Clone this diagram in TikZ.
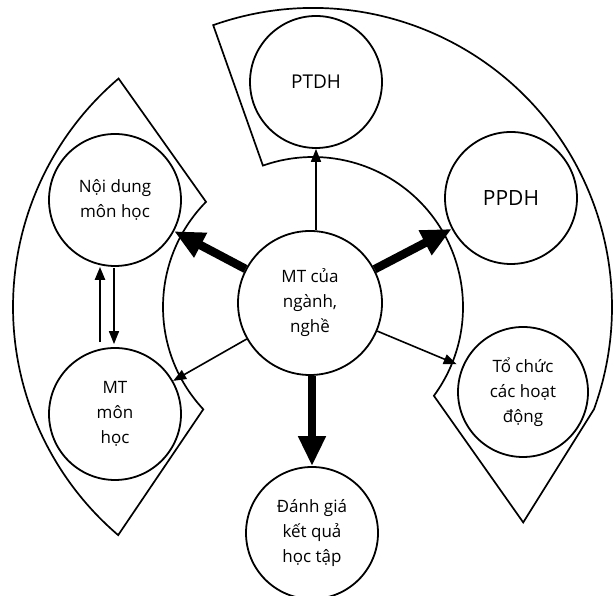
\documentclass[tikz,border=0pt]{standalone}
\usepackage{fontspec}
\setmainfont{Open Sans}
\usetikzlibrary{arrows.meta}
\begin{document}
\begin{tikzpicture}[x=1pt,y=1pt,
  bubble/.style={circle,draw,line width=1.8pt,minimum size=132pt,inner sep=0pt,
    align=center,font=\fontsize{17}{25}\selectfont},
  ring/.style={line width=1.7pt,line join=miter},
  thin arrow/.style={line width=1.6pt,-{Triangle[length=13pt,width=10pt]}},
  bold arrow/.style={line width=8.5pt,-{Triangle[length=30pt,width=26pt]}}
]
\useasboundingbox (0,0) rectangle (613,596);

% the two outlined ring sectors around the central goal
\begin{scope}[shift={(313,289)}]
  \draw[ring] (130.4:300) arc[start angle=130.4,end angle=229.5,radius=300]
    -- (223:150) arc[start angle=223,end angle=135.5,radius=150] -- cycle;
  \draw[ring] (109.5:150) -- (109.5:299)
    arc[start angle=109.5,end angle=-20,radius=299]
    -- (-45.7:301) -- (-36.3:150)
    arc[start angle=-36.3,end angle=109.5,radius=150] -- cycle;
\end{scope}

% nodes
\node[bubble,minimum size=144pt] (c) at (310,293) {MT của\\ngành,\\nghề};
\node[bubble,font=\fontsize{19}{23}\selectfont] (ptdh) at (316,514) {PTDH};
\node[bubble,font=\fontsize{21}{25}\selectfont] (ppdh) at (511,398) {PPDH};
\node[bubble] (nd) at (115,396) {Nội dung\\môn học};
\node[bubble] (mt) at (115,182) {MT\\môn\\học};
\node[bubble,minimum size=130pt] (tc) at (523,204) {Tổ chức\\các hoạt\\động};
\node[bubble] (dg) at (312,63) {Đánh giá\\kết quả\\học tập};

% connectors
\draw[thin arrow] (c.north -| ptdh.south) -- (ptdh.south);
\draw[bold arrow] (c) -- (ppdh);
\draw[bold arrow] (c) -- (nd);
\draw[thin arrow] (c) -- (mt);
\draw[thin arrow,shorten >=6pt] (c) -- (tc);
\draw[bold arrow] (c.south -| dg.north) -- (dg.north);
\draw[thin arrow,line width=2.3pt] ([xshift=-15pt,yshift=5pt]mt.north) -- ([xshift=-15pt]nd.south);
\draw[thin arrow] ([xshift=-1pt,yshift=-1pt]nd.south) -- ([xshift=-1pt,yshift=3pt]mt.north);
\end{tikzpicture}
\end{document}
